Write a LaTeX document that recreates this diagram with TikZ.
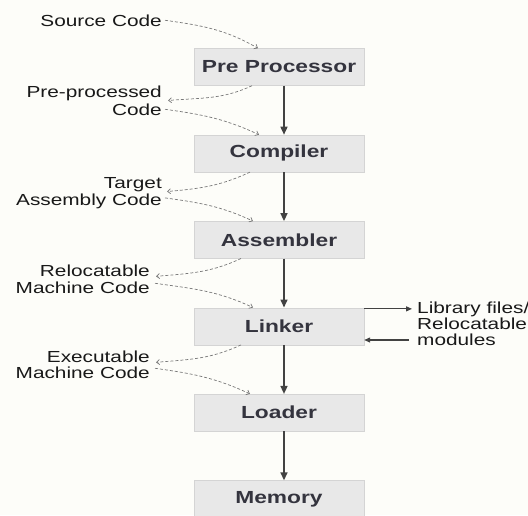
\documentclass[tikz,border=0pt]{standalone}
\usepackage{fontspec}
\setmainfont{Liberation Sans}[FakeStretch=1.3]
\usepackage{xcolor}
\definecolor{cpbg}{RGB}{253,253,249}
\definecolor{cpbox}{RGB}{232,232,232}
\definecolor{cpedge}{RGB}{212,212,212}
\definecolor{cptext}{RGB}{52,52,62}
\definecolor{cparrow}{RGB}{66,66,66}
\definecolor{cpdash}{RGB}{120,120,120}
\usepackage{tikz}
\usetikzlibrary{arrows.meta, positioning}

\tikzset{
  stage/.style={draw=cpedge,fill=cpbox,minimum width=170pt,minimum height=37pt,inner sep=0pt,text=cptext,font=\fontsize{17.5}{20}\selectfont\bfseries},
  lbl/.style={anchor=base east,inner sep=0pt,text=black!90,font=\fontsize{16}{18}\selectfont},
  libtext/.style={anchor=base west,inner sep=0pt,text=black!90,font=\fontsize{16}{18}\selectfont},
  flow/.style={draw=cparrow,line width=1.5pt,-{Triangle[length=8pt,width=7pt]}},
  sideflow/.style={draw=cparrow,line width=1.2pt,-{Triangle[length=6pt,width=5pt]}},
  hint/.style={draw=cpdash,densely dashed,line width=0.7pt,-{Straight Barb[length=3pt,width=5pt]}}
}

\begin{document}
\begin{tikzpicture}[x=1pt,y=1pt,node distance=49pt]
  \fill[cpbg] (0,0) rectangle (528,-515);
  \useasboundingbox (0,0) rectangle (528,-515);

  \node[stage] (pre) at (279,-67) {Pre Processor};
  \node[stage,below=of pre] (comp) {Compiler};
  \node[stage,below=of comp] (asm) {Assembler};
  \node[stage,below=of asm] (link) {Linker};
  \node[stage,below=of link] (load) {Loader};
  \node[stage,below=of load] (mem) {Memory};

  \node[lbl] (src) at (162,-26) {Source Code};
  \node[lbl] (pp1) at (162,-97) {Pre-processed};
  \node[lbl] (pp2) at (162,-115) {Code};
  \node[lbl] (tac1) at (162,-188) {Target};
  \node[lbl] (tac2) at (162,-205) {Assembly Code};
  \node[lbl] (rmc1) at (150,-276) {Relocatable};
  \node[lbl] (rmc2) at (150,-293) {Machine Code};
  \node[lbl] (emc1) at (150,-362) {Executable};
  \node[lbl] (emc2) at (150,-378) {Machine Code};

  \node[libtext] (lib1) at (417,-313) {Library files/};
  \node[libtext] (lib2) at (417,-329) {Relocatable};
  \node[libtext] (lib3) at (417,-345) {modules};
  \coordinate (libin) at (409,-340);

  \foreach \a/\b in {pre/comp, comp/asm, asm/link, link/load, load/mem}
    \draw[flow] ([xshift=5pt]\a.south) -- ([xshift=5pt]\b.north);

  \draw[sideflow] (link.east |- lib1.west) -- ([xshift=-5pt]lib1.west);
  \draw[sideflow] (libin) -- (libin -| link.east);

  \draw[hint] ([xshift=3pt]src.east) to[out=-8,in=150] ([xshift=-21pt]pre.north);
  \draw[hint] ([xshift=-27pt]pre.south) to[out=205,in=5] ([xshift=6pt]pp1.south east);
  \draw[hint] ([xshift=3pt]pp2.east) to[out=-8,in=155] ([xshift=-20pt]comp.north);
  \draw[hint] ([xshift=-29pt]comp.south) to[out=205,in=5] ([xshift=5pt]tac1.south east);
  \draw[hint] ([xshift=3pt,yshift=3pt]tac2.east) to[out=-8,in=155] ([xshift=-26pt]asm.north);
  \draw[hint] ([xshift=-38pt]asm.south) to[out=205,in=5] ([xshift=6pt]rmc1.south east);
  \draw[hint] ([xshift=5pt,yshift=4pt]rmc2.east) to[out=-8,in=155] ([xshift=-26pt]link.north);
  \draw[hint] ([xshift=-38pt]link.south) to[out=205,in=5] ([xshift=6pt]emc1.south east);
  \draw[hint] ([xshift=5pt,yshift=4pt]emc2.east) to[out=-8,in=155] ([xshift=-29pt]load.north);
\end{tikzpicture}
\end{document}
